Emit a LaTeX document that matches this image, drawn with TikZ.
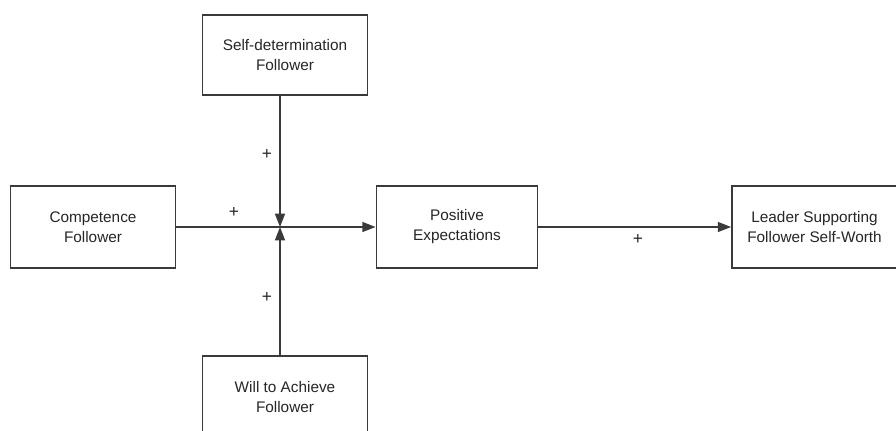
\documentclass[tikz,border=0pt]{standalone}
\usepackage{fontspec}
\setmainfont{Liberation Sans}
\usetikzlibrary{arrows.meta}
\definecolor{linegray}{HTML}{3A3A3A}
\tikzset{
	box/.style={draw=linegray, line width=1.1pt, fill=white, minimum width=124pt, minimum height=61.5pt, align=center, font=\fontsize{11.5}{15}\selectfont, text=black!85},
	link/.style={draw=linegray, line width=1.1pt, -{Triangle[length=10pt,width=7.5pt]}},
	sign/.style={font=\fontsize{13}{15}\selectfont, text=black!85, inner sep=0pt}
}

\begin{document}
\begin{tikzpicture}[x=0.75pt,y=-0.75pt]
		%%%%% START %%%%%
		
		\useasboundingbox (0, 0) rectangle (896, 431);
		
		\coordinate (jn) at (280, 227);
		
		\node[box] (comp) at (93, 227) {Competence\\Follower};
		\node[box, minimum width=121pt] (pos) at (457, 227) {Positive\\Expectations};
		\node[box] (lead) at (814.5, 227) {Leader Supporting\\Follower Self-Worth};
		
		\node[box, minimum height=60pt] (sd) at (285, 55) {Self-determination\\Follower};
		\node[box] (will) at (285, 397) {Will to Achieve\\Follower};
		
		% links
		\draw[link] (comp.east) -- (pos.west);
		\draw[link] (sd.south -| jn) -- (jn);
		\draw[link] (will.north -| jn) -- (jn);
		\draw[link] (pos.east) -- (lead.west);
		
		% signs
		\node[sign] (s1) at (234, 212) {+};
		\node[sign] (s2) at (267, 154) {+};
		\node[sign] (s3) at (267, 297) {+};
		\node[sign] (s4) at (638, 239) {+};
		
		%%%%% END %%%%%
	\end{tikzpicture}
\end{document}
